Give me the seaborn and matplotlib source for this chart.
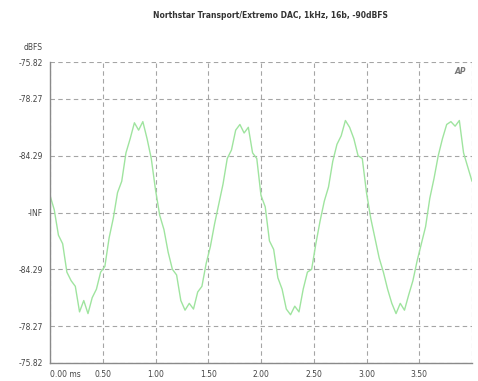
import numpy as np
import matplotlib
matplotlib.use("Agg")
import matplotlib.pyplot as plt
import seaborn as sns

# ---- data ----
title_text = "Northstar Transport/Extremo DAC, 1kHz, 16b, -90dBFS"
sample_step_ms = 0.04
amplitude = [
    0.30, 0.05, -0.40, -0.55, -1.05, -1.20, -1.30, -1.75, -1.55, -1.78,
    -1.50, -1.35, -1.05, -0.95, -0.45, -0.10, 0.35, 0.55, 1.05, 1.30,
    1.58, 1.45, 1.60, 1.30, 0.95,
    0.40, -0.05, -0.30, -0.70, -1.00, -1.10, -1.55, -1.72, -1.60, -1.70,
    -1.40, -1.30, -0.90, -0.60, -0.20, 0.15, 0.50, 0.95, 1.10, 1.45,
    1.55, 1.40, 1.50, 1.05, 0.95,
    0.30, 0.10, -0.50, -0.65, -1.15, -1.35, -1.70, -1.80, -1.65, -1.75,
    -1.35, -1.05, -1.00, -0.55, -0.15, 0.20, 0.45, 0.90, 1.20, 1.35,
    1.62, 1.50, 1.30, 1.00, 0.95,
    0.35, -0.10, -0.45, -0.80, -1.05, -1.35, -1.60, -1.78, -1.60, -1.72,
    -1.45, -1.20, -0.85, -0.55, -0.25, 0.25, 0.60, 1.00, 1.30, 1.55,
    1.60, 1.52, 1.62, 1.05, 0.80,
    0.55,
]
time_ms = np.arange(len(amplitude)) * sample_step_ms

y_tick_pos = [-2.65, -2, -1, 0, 1, 2, 2.65]
y_tick_labels = ["-75.82", "-78.27", "-84.29", "-INF", "-84.29", "-78.27", "-75.82"]
x_tick_pos = [0.0, 0.5, 1.0, 1.5, 2.0, 2.5, 3.0, 3.5, 4.0]
x_tick_labels = ["0.00 ms", "0.50", "1.00", "1.50", "2.00", "2.50", "3.00", "3.50", ""]

# ---- figure ----
sns.set_style("white")
plt.rcParams["font.family"] = ["DejaVu Sans"]

fig = plt.figure(figsize=(4.78, 3.81), dpi=100)
ax = fig.add_axes([50 / 478, 18 / 381, 422 / 478, 301 / 381])

sns.lineplot(x=time_ms, y=amplitude, ax=ax, color="#9fe49f", linewidth=1.0)

ax.set_xlim(0, 4.0)
ax.set_ylim(-2.65, 2.65)
ax.set_xticks(x_tick_pos)
ax.set_xticklabels(x_tick_labels)
ax.set_yticks(y_tick_pos)
ax.set_yticklabels(y_tick_labels)
ax.get_xticklabels()[0].set_ha("left")

ax.grid(True, color="#a5a5a5", linestyle=(0, (4, 3)), linewidth=0.8)
ax.set_axisbelow(True)
for s in ["top", "right"]:
    ax.spines[s].set_visible(False)
for s in ["left", "bottom"]:
    ax.spines[s].set_color("#8a8a8a")
    ax.spines[s].set_linewidth(1.0)

ax.tick_params(axis="both", length=3, width=0.8, color="#8a8a8a",
               labelsize=5.5, labelcolor="#444444", pad=2)
ax.set_xlabel("")
ax.set_ylabel("")

fig.text(33 / 478, 1 - 48 / 381, "dBFS", fontsize=5.5, color="#444444",
         ha="center", va="center")
fig.text(270 / 478, 1 - 15 / 381, title_text, fontsize=5.5, fontweight="bold",
         color="#333333", ha="center", va="center")
ax.text(0.985, 0.985, "AP", transform=ax.transAxes, fontsize=5.5,
        fontstyle="italic", fontweight="bold", color="#777777",
        ha="right", va="top")

fig.savefig("out.png", dpi=100)
